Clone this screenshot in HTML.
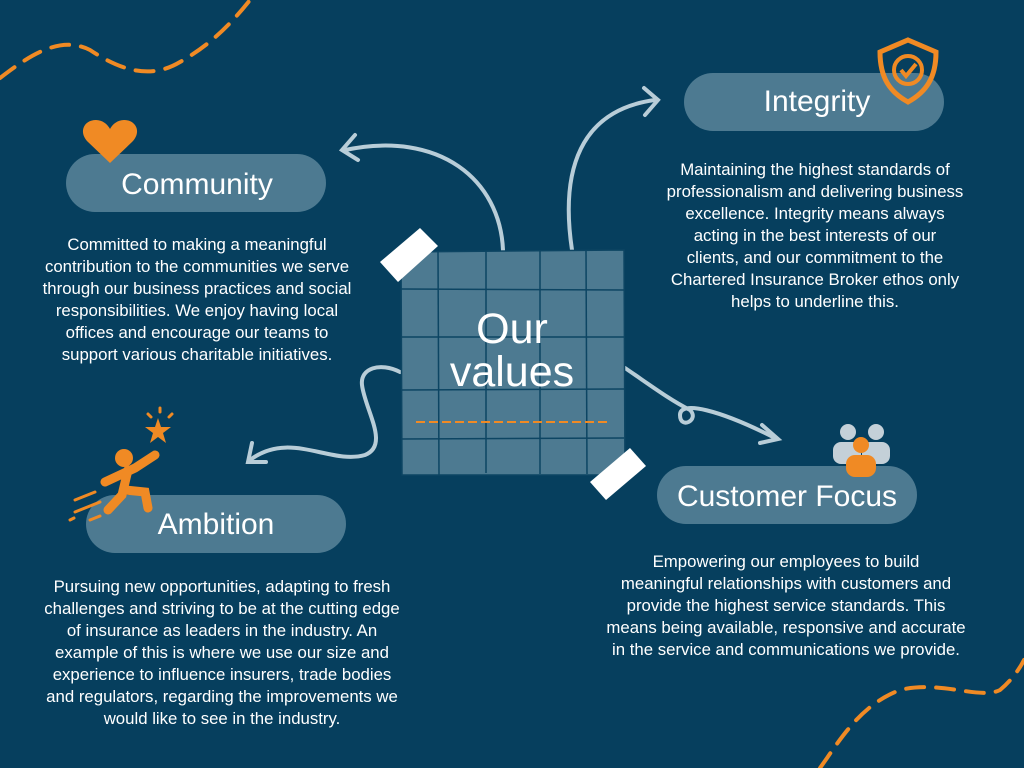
<!DOCTYPE html>
<html><head><meta charset="utf-8"><style>
html,body{margin:0;padding:0;background:#063f5e;}
svg{display:block}
text{font-family:"Liberation Sans",sans-serif;}
</style></head><body>
<svg width="1024" height="768" viewBox="0 0 1024 768" xmlns="http://www.w3.org/2000/svg">
<rect width="1024" height="768" fill="#063f5e"/>
<path d="M0 78 C30 55 60 35 90 50 C120 70 150 80 180 62 C210 45 230 25 250 0" fill="none" stroke="#f08a24" stroke-width="4" stroke-dasharray="18 12" stroke-linecap="round"/>
<path d="M820 768 C840 740 860 705 900 690 C940 680 980 700 1000 690 C1012 680 1020 668 1024 660" fill="none" stroke="#f08a24" stroke-width="4" stroke-dasharray="18 12" stroke-linecap="round"/>
<g fill="none" stroke="#b8cdd8" stroke-width="4" stroke-linecap="round">
<path d="M503 250 C500 180 440 130 345 150"/>
<path d="M355 135 L342 150 L358 160"/>
<path d="M572 250 C560 170 580 110 655 100"/>
<path d="M644 88 L658 100 L645 115"/>
<path d="M400 372 C380 362 360 368 362 385 C365 410 390 445 365 455 C330 465 290 430 250 460"/>
<path d="M252 443 L248 462 L266 462"/>
<path d="M625 368 C650 385 670 400 690 410 C700 420 680 430 680 415 C680 400 720 410 775 438"/>
<path d="M762 425 L778 439 L760 443"/>
</g>
<g>
<polygon points="401,252 624,250 625,475 402,475" fill="#4d7a91"/>
<g stroke="#0d4563" stroke-width="1.5" fill="none">
<path d="M438 252 L439 475"/><path d="M486 251 L486 473"/><path d="M540 251 L540 474"/><path d="M586 251 L587 474"/>
<path d="M401 289 L624 290"/><path d="M401 337 L624 337"/><path d="M401 390 L624 389"/><path d="M401 439 L624 438"/>
<polygon points="401,252 624,250 625,475 402,475"/>
</g>
<text x="512" y="343" fill="#fff" font-size="43" text-anchor="middle">Our</text>
<text x="512" y="386" fill="#fff" font-size="43" text-anchor="middle">values</text>
<line x1="416" y1="422" x2="610" y2="422" stroke="#f08a24" stroke-width="2" stroke-dasharray="9 4"/>
</g>
<polygon points="380,262 420,228 438,246 398,282" fill="#fff"/>
<polygon points="590,482 630,448 646,466 606,500" fill="#fff"/>
<rect x="66" y="154" width="260" height="58" rx="29" fill="#4d7a91"/>
<text x="197" y="194" fill="#fff" font-size="30" text-anchor="middle">Community</text>
<rect x="684" y="73" width="260" height="58" rx="29" fill="#4d7a91"/>
<text x="817" y="111" fill="#fff" font-size="30" text-anchor="middle">Integrity</text>
<rect x="86" y="495" width="260" height="58" rx="29" fill="#4d7a91"/>
<text x="216" y="534" fill="#fff" font-size="30" text-anchor="middle">Ambition</text>
<rect x="657" y="466" width="260" height="58" rx="29" fill="#4d7a91"/>
<text x="787" y="506" fill="#fff" font-size="30" text-anchor="middle">Customer Focus</text>
<path d="M110 163 L88 142 C78 132 84 120 96 120 C103 120 108 125 110 129 C112 125 117 120 124 120 C136 120 142 132 132 142 Z" fill="#f08a24"/>
<path d="M908 40 L936 52 C936 78 926 92 908 102 C890 92 880 78 880 52 Z" fill="none" stroke="#f08a24" stroke-width="5"/>
<circle cx="908" cy="70" r="14" fill="none" stroke="#f08a24" stroke-width="4"/>
<path d="M901 70 L906 76 L916 64" fill="none" stroke="#f08a24" stroke-width="4"/>
<g fill="#c4d0d8"><circle cx="848" cy="432" r="8"/><circle cx="876" cy="432" r="8"/><rect x="833" y="442" width="28" height="22" rx="8"/><rect x="862" y="442" width="28" height="22" rx="8"/></g>
<circle cx="861" cy="445" r="8" fill="#f08a24"/><rect x="846" y="455" width="30" height="22" rx="9" fill="#f08a24"/>
<polygon points="158,418 161,427 171,427 163,433 166,443 158,437 150,443 153,433 145,427 155,427" fill="#f08a24"/>
<g stroke="#f08a24" stroke-width="3" stroke-linecap="round"><line x1="160" y1="408" x2="160" y2="412"/><line x1="148" y1="414" x2="151" y2="417"/><line x1="172" y1="414" x2="169" y2="417"/></g>
<circle cx="124" cy="458" r="9" fill="#f08a24"/>
<g stroke="#f08a24" stroke-width="9" stroke-linecap="round" fill="none"><path d="M105 482 L135 468 L155 455"/><path d="M128 470 L122 495 L108 510"/><path d="M125 490 L145 492 L148 508"/></g>
<g stroke="#f08a24" stroke-width="3" stroke-linecap="round"><line x1="75" y1="500" x2="95" y2="492"/><line x1="75" y1="512" x2="100" y2="502"/><line x1="70" y1="520" x2="74" y2="518"/><line x1="90" y1="520" x2="100" y2="516"/></g>
<g fill="#fff" font-size="16.8" text-anchor="middle">
<text x="197" y="250">Committed to making a meaningful</text>
<text x="197" y="272">contribution to the communities we serve</text>
<text x="197" y="294">through our business practices and social</text>
<text x="197" y="316">responsibilities. We enjoy having local</text>
<text x="197" y="338">offices and encourage our teams to</text>
<text x="197" y="360">support various charitable initiatives.</text>
<text x="815" y="175">Maintaining the highest standards of</text>
<text x="815" y="197">professionalism and delivering business</text>
<text x="815" y="219">excellence. Integrity means always</text>
<text x="815" y="241">acting in the best interests of our</text>
<text x="815" y="263">clients, and our commitment to the</text>
<text x="815" y="285">Chartered Insurance Broker ethos only</text>
<text x="815" y="307">helps to underline this.</text>
<text x="222" y="592">Pursuing new opportunities, adapting to fresh</text>
<text x="222" y="614">challenges and striving to be at the cutting edge</text>
<text x="222" y="636">of insurance as leaders in the industry. An</text>
<text x="222" y="658">example of this is where we use our size and</text>
<text x="222" y="680">experience to influence insurers, trade bodies</text>
<text x="222" y="702">and regulators, regarding the improvements we</text>
<text x="222" y="724">would like to see in the industry.</text>
<text x="786" y="567">Empowering our employees to build</text>
<text x="786" y="589">meaningful relationships with customers and</text>
<text x="786" y="611">provide the highest service standards. This</text>
<text x="786" y="633">means being available, responsive and accurate</text>
<text x="786" y="655">in the service and communications we provide.</text>
</g>
</svg>
</body></html>
